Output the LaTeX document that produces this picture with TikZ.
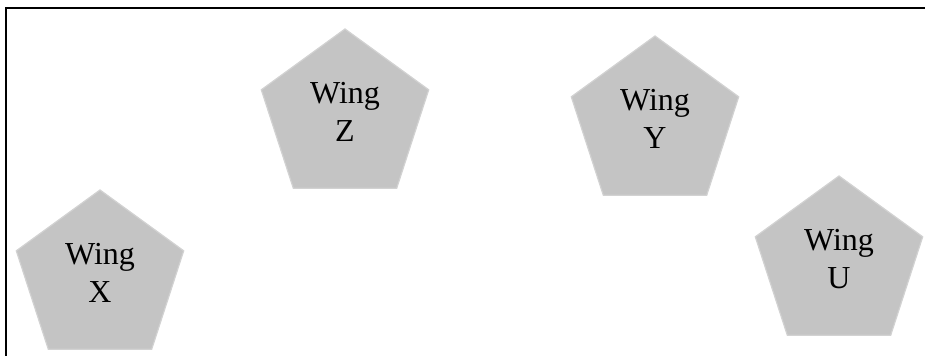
\documentclass[tikz,border=0pt]{standalone}
\usepackage{fontspec}
\setmainfont{Liberation Serif}
\usepackage{tikz}
\usetikzlibrary{shapes.geometric}

\definecolor{winggray}{HTML}{C4C4C4}
\definecolor{wingedge}{HTML}{D2D2D2}

\tikzset{
    wing/.style={regular polygon, regular polygon sides=5, minimum size=88pt,
        inner sep=0pt, fill=winggray, draw=wingedge, line width=0.6pt,
        align=center, text depth=5pt, font=\fontsize{16}{19}\selectfont}
}

\begin{document}
\begin{tikzpicture}[x=0.5pt,y=0.5pt]
                    \useasboundingbox (0,0) rectangle (925,356);
                    \draw[line width=0.8pt] (6,0) -- (6,348) -- (925,348);

                    \node[wing] (wingX) at (100,78) {Wing\\X};
                    \node[wing] (wingZ) at (345,239) {Wing\\Z};
                    \node[wing] (wingY) at (655,232) {Wing\\Y};
                    \node[wing] (wingU) at (839,92) {Wing\\U};
                \end{tikzpicture}
\end{document}
